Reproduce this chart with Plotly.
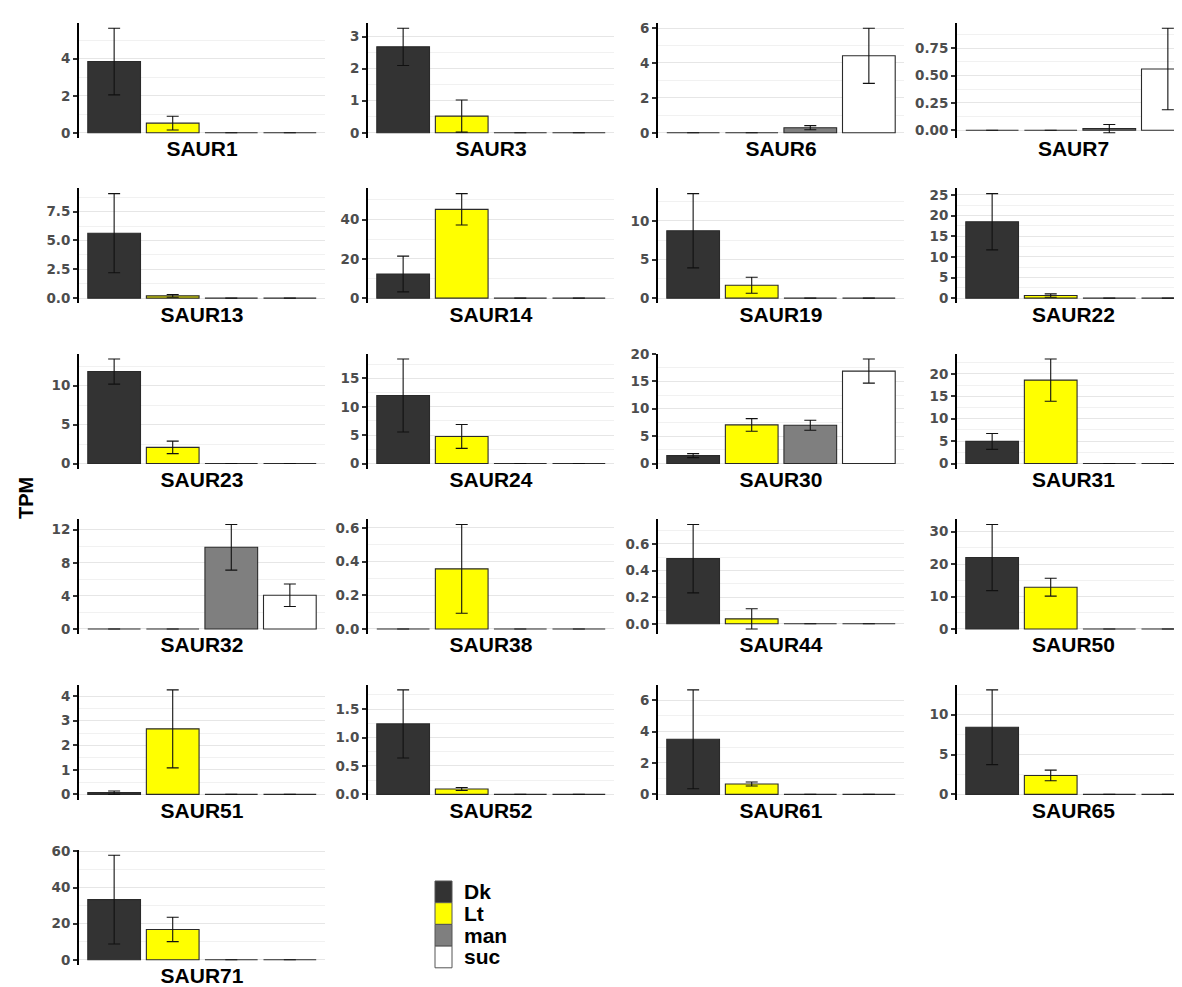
import plotly.graph_objects as go

genes = ["SAUR1", "SAUR3", "SAUR6", "SAUR7", "SAUR13", "SAUR14", "SAUR19", "SAUR22",
         "SAUR23", "SAUR24", "SAUR30", "SAUR31", "SAUR32", "SAUR38", "SAUR44", "SAUR50",
         "SAUR51", "SAUR52", "SAUR61", "SAUR65", "SAUR71"]
conditions = ["Dk", "Lt", "man", "suc"]
cond_colors = ["#333333", "#FFFF00", "#7F7F7F", "#FFFFFF"]

dk_mean = [3.85, 2.68, 0, 0, 5.63, 12.3, 8.72, 18.5, 11.82, 11.98, 1.45, 4.94, 0, 0, 0.489, 22.0, 0.07, 1.24, 3.51, 8.42, 33.3]
dk_sd = [1.80, 0.58, 0, 0, 3.43, 9.1, 4.8, 6.8, 1.61, 6.43, 0.36, 1.77, 0, 0, 0.257, 10.2, 0.07, 0.60, 3.15, 4.69, 24.6]
lt_mean = [0.52, 0.52, 0, 0, 0.20, 45.2, 1.67, 0.64, 2.08, 4.77, 7.05, 18.6, 0, 0.357, 0.037, 12.87, 2.67, 0.094, 0.66, 2.37, 16.8]
lt_sd = [0.37, 0.50, 0, 0, 0.12, 8.0, 1.03, 0.40, 0.80, 2.10, 1.15, 4.7, 0, 0.264, 0.076, 2.74, 1.59, 0.027, 0.13, 0.67, 6.77]
man_mean = [0, 0, 0.29, 0.015, 0, 0, 0, 0, 0, 0, 6.99, 0, 9.88, 0, 0, 0, 0, 0, 0, 0, 0]
man_sd = [0, 0, 0.12, 0.038, 0, 0, 0, 0, 0, 0, 0.90, 0, 2.76, 0, 0, 0, 0, 0, 0, 0, 0]
suc_mean = [0, 0, 4.41, 0.56, 0, 0, 0, 0, 0, 0, 16.87, 0, 4.08, 0, 0, 0, 0, 0, 0, 0, 0]
suc_sd = [0, 0, 1.58, 0.373, 0, 0, 0, 0, 0, 0, 2.20, 0, 1.36, 0, 0, 0, 0, 0, 0, 0, 0]

tick_labels = [
    ["0", "2", "4"], ["0", "1", "2", "3"], ["0", "2", "4", "6"], ["0.00", "0.25", "0.50", "0.75"],
    ["0.0", "2.5", "5.0", "7.5"], ["0", "20", "40"], ["0", "5", "10"], ["0", "5", "10", "15", "20", "25"],
    ["0", "5", "10"], ["0", "5", "10", "15"], ["0", "5", "10", "15", "20"], ["0", "5", "10", "15", "20"],
    ["0", "4", "8", "12"], ["0.0", "0.2", "0.4", "0.6"], ["0.0", "0.2", "0.4", "0.6"], ["0", "10", "20", "30"],
    ["0", "1", "2", "3", "4"], ["0.0", "0.5", "1.0", "1.5"], ["0", "2", "4", "6"], ["0", "5", "10"],
    ["0", "20", "40", "60"],
]
y_title = "TPM"

W, H = 1182, 987
col_left = [71, 360, 650, 949]
panel_w = 246
row_top0, row_step, panel_h = 15, 165.4, 115

fig = go.Figure()
layout = {}
for i, g in enumerate(genes):
    r, c = divmod(i, 4)
    sfx = "" if i == 0 else str(i + 1)
    means = [dk_mean[i], lt_mean[i], man_mean[i], suc_mean[i]]
    sds = [dk_sd[i], lt_sd[i], man_sd[i], suc_sd[i]]
    fig.add_trace(go.Bar(
        x=conditions, y=means, xaxis="x" + sfx, yaxis="y" + sfx, width=0.9,
        marker=dict(color=cond_colors, line=dict(color="#2a2a2a", width=1.1)),
        error_y=dict(type="data", array=sds, visible=True, color="#111111", thickness=1.1, width=6),
        showlegend=False, hoverinfo="x+y",
    ))
    lo = min(0, min(m - s for m, s in zip(means, sds)))
    hi = max(m + s for m, s in zip(means, sds))
    pad = (hi - lo) * 0.05
    left = col_left[c]
    right = min(left + panel_w, W)
    xmax = -0.6 + 4.2 * (right - left) / panel_w
    top = row_top0 + row_step * r
    majors = [float(t) for t in tick_labels[i]]
    step = majors[1] - majors[0]
    minors = [m + step / 2 for m in [majors[0] - step] + majors]
    layout["xaxis" + sfx] = dict(
        domain=[left / W, right / W], anchor="y" + sfx, range=[-0.6, xmax], automargin=False,
        showgrid=False, showticklabels=False, ticks="", showline=False, zeroline=False,
        title=dict(text=g, font=dict(family="Liberation Sans", size=21, weight="bold", color="black"), standoff=3),
    )
    layout["yaxis" + sfx] = dict(
        domain=[(H - top - panel_h) / H, (H - top) / H], anchor="x" + sfx, automargin=False,
        range=[lo - pad, hi + pad], tickmode="array", tickvals=majors, ticktext=tick_labels[i],
        tickfont=dict(family="DejaVu Sans", size=13.5, weight="bold", color="#4d4d4d"),
        showline=True, linecolor="black", linewidth=2, ticks="outside", ticklen=4,
        tickwidth=1.5, tickcolor="#333333",
        showgrid=True, gridcolor="#e6e6e6", gridwidth=1.4, zeroline=False,
        minor=dict(tickvals=minors, showgrid=True, gridcolor="#f1f1f1", gridwidth=1, ticks=""),
    )

shapes = []
annotations = [dict(text=y_title, x=18 / W, y=1 - 490 / H, xref="paper", yref="paper",
                    xanchor="center", yanchor="middle", showarrow=False, textangle=-90,
                    font=dict(family="Liberation Sans", size=20, weight="bold", color="black"))]
key_x0, key_x1, key_y0, key_h = 427, 444, 873, 21.7
for k, (name, col) in enumerate(zip(conditions, cond_colors)):
    y0 = key_y0 + k * key_h
    shapes.append(dict(type="rect", xref="paper", yref="paper",
                       x0=key_x0 / W, x1=key_x1 / W, y0=1 - y0 / H, y1=1 - (y0 + key_h) / H,
                       fillcolor=col, line=dict(color="#555555", width=1)))
    annotations.append(dict(text=name, x=454 / W, y=1 - (y0 + key_h / 2) / H, xref="paper", yref="paper",
                            xanchor="left", yanchor="middle", showarrow=False,
                            font=dict(family="Liberation Sans", size=21, weight="bold", color="black")))

fig.update_layout(
    template="none",
    width=W, height=H, margin=dict(l=0, r=0, t=0, b=0, autoexpand=False),
    plot_bgcolor="white", paper_bgcolor="white", showlegend=False,
    shapes=shapes, annotations=annotations, **layout,
)
fig.write_html("out.html")
